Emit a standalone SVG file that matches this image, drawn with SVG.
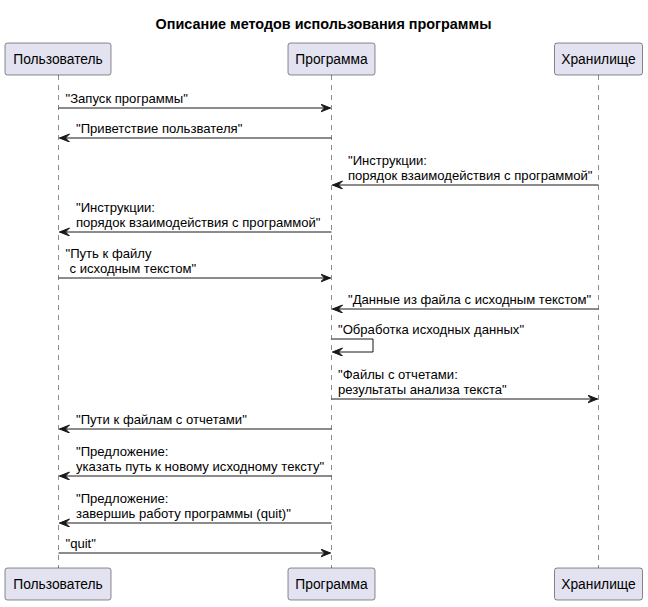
<svg xmlns="http://www.w3.org/2000/svg" width="648" height="607" viewBox="0 0 648 607">
<defs>
<style>
.box{fill:#E2E2F0;stroke:#181818;stroke-width:0.5}
.pt{font-family:"Liberation Sans",Arial,sans-serif;font-size:13.8px;fill:#000;text-anchor:middle}
.life{stroke:#181818;stroke-width:0.5;stroke-dasharray:5,5;fill:none}
.msg{stroke:#181818;stroke-width:1;fill:none}
.arr{marker-end:url(#ah)}
.mt{font-family:"Liberation Sans",Arial,sans-serif;font-size:13.1px;fill:#000}
.title{font-family:"Liberation Sans",Arial,sans-serif;font-size:14.4px;font-weight:bold;fill:#000;text-anchor:middle}
</style>
<marker id="ah" markerUnits="userSpaceOnUse" markerWidth="12" markerHeight="10" refX="10" refY="4" orient="auto">
<path d="M0,0 L10,4 L0,8 L4,4 Z" fill="#181818" stroke="#181818" stroke-width="1"/>
</marker>
</defs>
<rect width="648" height="607" fill="#FFFFFF"/>
<text class="title" x="323.5" y="29">Описание методов использования программы</text>

<g id="lifelines">
<line class="life" x1="58.5" y1="75" x2="58.5" y2="568"/>
<line class="life" x1="331.5" y1="75" x2="331.5" y2="568"/>
<line class="life" x1="598.5" y1="75" x2="598.5" y2="568"/>
</g>

<g id="user">
<rect class="box" x="5" y="43" width="106" height="32" rx="2.5"/>
<text class="pt" x="58" y="64">Пользователь</text>
<rect class="box" x="5" y="568" width="106" height="32" rx="2.5"/>
<text class="pt" x="58" y="589">Пользователь</text>
</g>
<g id="program">
<rect class="box" x="288" y="43" width="87" height="32" rx="2.5"/>
<text class="pt" x="331.5" y="64">Программа</text>
<rect class="box" x="288" y="568" width="87" height="32" rx="2.5"/>
<text class="pt" x="331.5" y="589">Программа</text>
</g>
<g id="storage">
<rect class="box" x="554.5" y="43" width="88" height="32" rx="2.5"/>
<text class="pt" x="598.5" y="64">Хранилище</text>
<rect class="box" x="554.5" y="568" width="88" height="32" rx="2.5"/>
<text class="pt" x="598.5" y="589">Хранилище</text>
</g>

<g id="connectors">
<line class="msg arr" x1="58.5" y1="108" x2="330.5" y2="108"/>
<text class="mt" x="65.5" y="103">"Запуск программы"</text>

<line class="msg arr" x1="331.5" y1="138" x2="59.5" y2="138"/>
<text class="mt" x="76" y="133">"Приветствие пользвателя"</text>

<line class="msg arr" x1="598.5" y1="185" x2="332.5" y2="185"/>
<text class="mt" x="348" y="164.5">"Инструкции:</text>
<text class="mt" x="348" y="180">порядок взаимодействия с программой"</text>

<line class="msg arr" x1="331.5" y1="232" x2="59.5" y2="232"/>
<text class="mt" x="76" y="211.5">"Инструкции:</text>
<text class="mt" x="76" y="227">порядок взаимодействия с программой"</text>

<line class="msg arr" x1="58.5" y1="278" x2="330.5" y2="278"/>
<text class="mt" x="65.5" y="257.5">"Путь к файлу</text>
<text class="mt" x="69.5" y="273">с исходным текстом"</text>

<line class="msg arr" x1="598.5" y1="309" x2="332.5" y2="309"/>
<text class="mt" x="348" y="304">"Данные из файла с исходным текстом"</text>

<polyline class="msg arr" points="331.5,339 373,339 373,352 332.5,352"/>
<text class="mt" x="338" y="334">"Обработка исходных данных"</text>

<line class="msg arr" x1="331.5" y1="399" x2="597.5" y2="399"/>
<text class="mt" x="338" y="378.5">"Файлы с отчетами:</text>
<text class="mt" x="338" y="394">результаты анализа текста"</text>

<line class="msg arr" x1="331.5" y1="429" x2="59.5" y2="429"/>
<text class="mt" x="76" y="424">"Пути к файлам с отчетами"</text>

<line class="msg arr" x1="331.5" y1="476" x2="59.5" y2="476"/>
<text class="mt" x="76" y="455.5">"Предложение:</text>
<text class="mt" x="76" y="471">указать путь к новому исходному тексту"</text>

<line class="msg arr" x1="331.5" y1="523" x2="59.5" y2="523"/>
<text class="mt" x="76" y="502.5">"Предложение:</text>
<text class="mt" x="76" y="518">завершиь работу программы (quit)"</text>

<line class="msg arr" x1="58.5" y1="553" x2="330.5" y2="553"/>
<text class="mt" x="65.5" y="548">"quit"</text>
</g>
</svg>
